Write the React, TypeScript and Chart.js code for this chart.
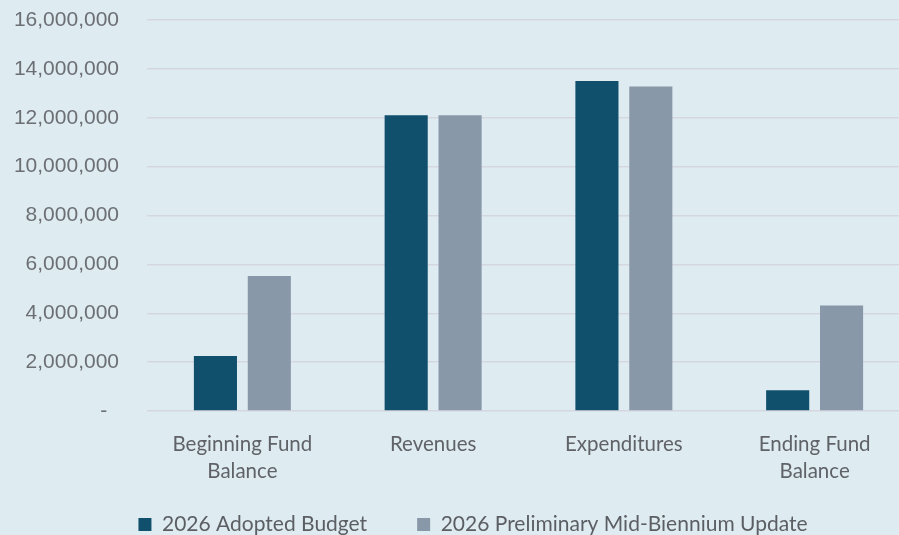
import React, { useEffect, useRef } from "react";
import { Chart, registerables } from "chart.js";

Chart.register(...registerables);

const categories: string[][] = [
  ["Beginning Fund", "Balance"],
  ["Revenues"],
  ["Expenditures"],
  ["Ending Fund", "Balance"],
];
const adoptedBudget: number[] = [2250000, 12100000, 13500000, 850000];
const preliminaryUpdate: number[] = [5520000, 12100000, 13280000, 4320000];
const seriesNames: string[] = [
  "2026 Adopted Budget",
  "2026 Preliminary Mid-Biennium Update",
];
const yMin = 0;
const yMax = 16000000;
const yStep = 2000000;

const BG = "#deebf1";
const CANVAS_W = 910;
const CANVAS_H = 545;

export default function App() {
  const ref = useRef<HTMLCanvasElement | null>(null);

  useEffect(() => {
    if (!ref.current) return;
    const chart = new Chart(ref.current, {
      type: "bar",
      data: {
        labels: categories,
        datasets: [
          {
            label: seriesNames[0],
            data: adoptedBudget,
            backgroundColor: "#11506d",
            categoryPercentage: 0.565,
            barPercentage: 0.8,
          },
          {
            label: seriesNames[1],
            data: preliminaryUpdate,
            backgroundColor: "#8898a9",
            categoryPercentage: 0.565,
            barPercentage: 0.8,
          },
        ],
      },
      options: {
        responsive: false,
        animation: false,
        layout: { padding: { top: 20, right: 0, left: 36, bottom: 0 } },
        plugins: {
          tooltip: { enabled: false },
          legend: {
            position: "bottom",
            labels: {
              boxWidth: 13,
              boxHeight: 13,
              padding: 50,
              color: "#5b5f64",
              font: { family: "Lato", size: 21, lineHeight: 1.0 },
            },
          },
        },
        scales: {
          x: {
            grid: { display: false },
            border: { display: false },
            ticks: {
              color: "#5f6368",
              font: { family: "Lato", size: 20.5, lineHeight: 1.3 },
              maxRotation: 0,
              autoSkip: false,
              padding: 12,
            },
            afterFit: (s: any) => {
              s.height = 53;
            },
          },
          y: {
            min: yMin,
            max: yMax,
            border: { display: false },
            grid: {
              color: "#d5d7e0",
              lineWidth: 1.5,
              drawTicks: true,
              tickLength: 28,
              tickColor: "rgba(0,0,0,0)",
            },
            ticks: {
              stepSize: yStep,
              padding: 0,
              color: "#6c7075",
              font: { family: "Liberation Sans", size: 21, lineHeight: 1.2 },
              callback: (v: any) =>
                Number(v) === 0 ? "-  " : Number(v).toLocaleString("en-US"),
            },
            afterFit: (s: any) => {
              s.width = 111;
            },
          },
        },
      },
      plugins: [
        {
          id: "bg",
          beforeDraw: (c: any) => {
            const ctx = c.ctx;
            ctx.save();
            ctx.fillStyle = BG;
            ctx.fillRect(0, 0, c.width, c.height);
            ctx.restore();
            // let tick labels run outside the fixed-size axis boxes
            if (c.scales && c.scales.x) {
              c.scales.x._computeLabelArea = () => undefined;
            }
            if (c.scales && c.scales.y) {
              c.scales.y._computeLabelArea = () => undefined;
            }
          },
        },
      ],
    });
    return () => chart.destroy();
  }, []);

  return (
    <div
      style={{
        position: "fixed",
        left: 0,
        top: 0,
        width: "100vw",
        height: "100vh",
        overflow: "hidden",
        background: BG,
      }}
    >
      <canvas ref={ref} width={CANVAS_W} height={CANVAS_H} style={{ display: "block" }} />
    </div>
  );
}
